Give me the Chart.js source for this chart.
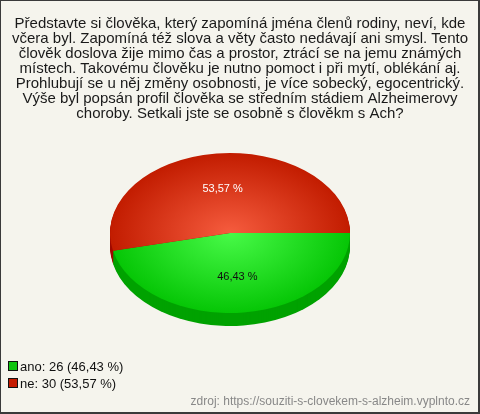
<!DOCTYPE html>
<html><head><meta charset="utf-8">
<script src="https://cdn.jsdelivr.net/npm/chart.js@4.4.1/dist/chart.umd.min.js"></script>
<style>html,body{margin:0;padding:0;background:#f5f4ed}canvas{display:block}</style>
</head><body>
<div style="width:480px;height:414px;position:relative"><canvas id="c" width="480" height="414"></canvas></div>
<script>
const categories = ['ano', 'ne'];
const counts = [26, 30];
const percentTexts = ['46,43 %', '53,57 %'];
const legendTexts = ['ano: 26 (46,43 %)', 'ne: 30 (53,57 %)'];
const titleLines = [
  'Představte si člověka, který zapomíná jména členů rodiny, neví, kde',
  'včera byl. Zapomíná též slova a věty často nedávají ani smysl. Tento',
  'člověk doslova žije mimo čas a prostor, ztrácí se na jemu známých',
  'místech. Takovému člověku je nutno pomoct i při mytí, oblékání aj.',
  'Prohlubují se u něj změny osobnosti, je více sobecký, egocentrický.',
  'Výše byl popsán profil člověka se středním stádiem Alzheimerovy',
  'choroby. Setkali jste se osobně s člověkm s Ach?'
];
const sourceText = 'zdroj: https://souziti-s-clovekem-s-alzheim.vyplnto.cz';

const topColors = [['#48fa48', '#06c606'], ['#f65c3e', '#c21c00']];
const sideColors = ['#00a200', '#a00a00'];
const legendColors = ['#10c410', '#c41a00'];
const labelColors = ['#111111', '#ffffff'];

const FONT = "'Liberation Sans', Arial, sans-serif";
const PIE = { cx: 230, cy: 233, rx: 120, ry: 80, depth: 13 };

function applyPieTransform(ctx, arc, d) {
  ctx.translate(PIE.cx, PIE.cy + d);
  ctx.scale(PIE.rx / arc.outerRadius, PIE.ry / arc.outerRadius);
  ctx.translate(-arc.x, -arc.y);
}
function drawArcWith(ctx, arc, fill) {
  const proxy = Object.create(arc);
  proxy.options = Object.assign({}, arc.options, { backgroundColor: fill, borderWidth: 0 });
  arc.draw.call(proxy, ctx);
}

const framePlugin = {
  id: 'frame',
  beforeDraw(chart) {
    const ctx = chart.ctx;
    ctx.save();
    ctx.fillStyle = '#3a3a3a';
    ctx.fillRect(0, 0, chart.width, chart.height);
    ctx.fillStyle = '#f5f4ed';
    ctx.fillRect(1, 1, chart.width - 3, chart.height - 3);
    ctx.restore();
  },
  afterDraw(chart) {
    const ctx = chart.ctx;
    ctx.save();
    ctx.font = '13px ' + FONT;
    ctx.textBaseline = 'alphabetic';
    ctx.textAlign = 'left';
    legendTexts.forEach((t, i) => {
      const y = 362 + i * 17;
      ctx.fillStyle = legendColors[i];
      ctx.fillRect(9, y, 8, 8);
      ctx.strokeStyle = '#111';
      ctx.lineWidth = 1;
      ctx.strokeRect(8.5, y - 0.5, 9, 9);
      ctx.fillStyle = '#111';
      ctx.fillText(t, 20, y + 8.5);
    });
    ctx.font = '12px ' + FONT;
    ctx.fillStyle = '#888';
    ctx.textAlign = 'right';
    ctx.fillText(sourceText, 470, 404.5);
    ctx.restore();
  }
};

const pie3dPlugin = {
  id: 'pie3d',
  beforeDatasetsDraw(chart) {
    const ctx = chart.ctx;
    const arcs = chart.getDatasetMeta(0).data;
    const a0 = arcs[0];
    for (let d = PIE.depth; d >= 1; d--) {
      ctx.save();
      applyPieTransform(ctx, a0, d);
      arcs.forEach((arc, i) => drawArcWith(ctx, arc, sideColors[i]));
      ctx.restore();
    }
    ctx.save();
    applyPieTransform(ctx, a0, 0);
    arcs.forEach((arc, i) => {
      const g = ctx.createRadialGradient(arc.x, arc.y, 0, arc.x, arc.y, arc.outerRadius);
      g.addColorStop(0, topColors[i][0]);
      g.addColorStop(1, topColors[i][1]);
      drawArcWith(ctx, arc, g);
    });
    ctx.restore();
    ctx.save();
    ctx.font = '11px ' + FONT;
    ctx.textAlign = 'center';
    ctx.textBaseline = 'middle';
    arcs.forEach((arc, i) => {
      const mid = (arc.startAngle + arc.endAngle) / 2;
      const f = 0.55;
      const x = PIE.cx + Math.cos(mid) * f * PIE.rx;
      const y = PIE.cy + Math.sin(mid) * f * PIE.ry;
      ctx.fillStyle = labelColors[i];
      ctx.fillText(percentTexts[i], x, y);
    });
    ctx.restore();
    return false;
  }
};

new Chart(document.getElementById('c'), {
  type: 'pie',
  data: {
    labels: categories,
    datasets: [{ data: counts, backgroundColor: legendColors, borderWidth: 0 }]
  },
  options: {
    responsive: false,
    devicePixelRatio: 1,
    animation: false,
    rotation: 90,
    layout: { padding: { bottom: 70 } },
    plugins: {
      legend: { display: false },
      tooltip: { enabled: false },
      title: {
        display: true,
        text: titleLines,
        color: '#1a1a1a',
        font: { family: FONT, size: 15, weight: 'normal', lineHeight: 1.0 },
        padding: { top: 16, bottom: 10 }
      }
    }
  },
  plugins: [framePlugin, pie3dPlugin]
});
</script>
</body></html>
